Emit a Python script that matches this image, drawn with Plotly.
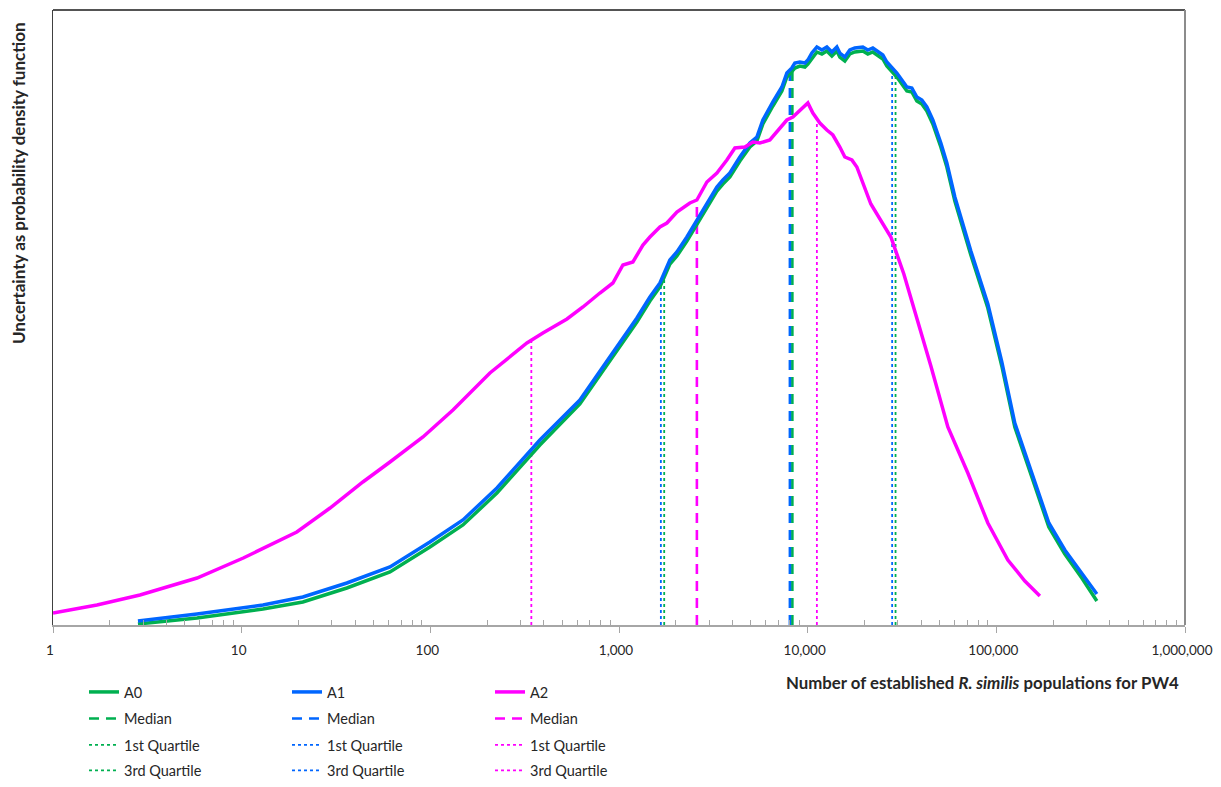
import numpy as np
import plotly.graph_objects as go

# ---------------- data ----------------
# Number of established populations (x) shared by A0 and A1
n_a01 = [2.82, 5.80, 12.97, 21.1, 36.1, 61.1, 99.5, 148.9, 225.4, 298.4,
         380.8, 620.5, 928, 1244, 1458, 1648, 1861, 2027, 2290, 2587,
         2923, 3302, 3553, 3870, 4372, 4939, 5381, 5789, 6540, 7301,
         7758, 8246, 8553, 9094, 9665, 10025, 10527, 11190, 11893, 12641,
         13436, 14280, 14811, 15742, 16731, 17785, 19611, 20843, 22150, 23550,
         25030, 26280, 27940, 29700, 31570, 33550, 35660, 37900, 40290, 42820,
         46070, 50800, 54670, 60280, 73270, 90160, 106900, 125300, 154200, 189800,
         230700, 283900, 341000]

# relative probability density (arbitrary units)
pdf_a1 = [4, 11, 20, 28, 42, 58, 83, 105, 137, 162,
          185, 225, 272, 307, 328, 342, 365, 373, 388, 405,
          422, 438, 445, 452, 468, 482, 488, 505, 523, 538,
          552, 557, 562, 563, 562, 565, 572, 578, 575, 578,
          573, 578, 572, 568, 575, 577, 578, 575, 577, 573,
          570, 563, 558, 552, 545, 538, 537, 528, 525, 518,
          505, 482, 462, 428, 374, 321, 263, 202, 152, 102,
          75, 52, 31]

pdf_a0 = [1, 7, 16, 23, 37, 53, 78, 100, 132, 157,
          180, 221, 268, 303, 324, 338, 361, 369, 384, 401,
          418, 434, 441, 448, 464, 478, 484, 501, 519, 534,
          548, 553, 557, 559, 558, 561, 567, 573, 571, 574,
          569, 574, 568, 564, 571, 573, 574, 571, 573, 569,
          566, 559, 554, 548, 541, 534, 533, 524, 521, 514,
          501, 478, 458, 424, 370, 317, 259, 198, 148, 98,
          71, 47, 24]

n_a2 = [1, 1.71, 2.89, 5.80, 10.2, 19.6, 29.4, 43.9, 61.1, 91.4,
        131.8, 206.9, 325, 395, 530, 644, 792, 928, 1049, 1185,
        1339, 1458, 1648, 1794, 2027, 2375, 2587, 2923, 3302, 3730,
        4114, 4648, 5124, 5581, 6305, 6953, 7758, 8347, 9318, 10025,
        10655, 11604, 12641, 13600, 14811, 15742, 17150, 18225, 21620, 27600,
        32340, 39800, 44980, 55340, 70630, 90160, 115100, 141600, 170100]

pdf_a2 = [12, 20, 30, 47, 67, 93, 117, 143, 163, 188,
          215, 252, 282, 292, 306, 318, 332, 342, 360, 363,
          380, 388, 398, 402, 413, 422, 425, 443, 452, 465,
          477, 478, 483, 482, 485, 495, 505, 508, 517, 522,
          512, 502, 495, 490, 478, 468, 465, 458, 421, 388,
          351, 294, 259, 198, 152, 102, 65, 44, 29]

# summary statistics: (1st quartile, median, 3rd quartile)
stats_a0 = [1736, 8296, 29230]
stats_a1 = [1667, 8050, 28040]
stats_a2 = [343, 2587, 11190]

series_names = ["A0", "A1", "A2"]
series_colors = ["#00B050", "#0066FF", "#FF00FF"]

tick_vals = [1, 10, 100, 1000, 10000, 100000, 1000000]
tick_text = ["1", "10", "100", "1,000", "10,000", "100,000", "1,000,000"]

x_title = "Number of established <i>R. similis</i> populations for PW4"
y_title = "Uncertainty as probability density function"

FONT = "Lato, 'Open Sans', sans-serif"

# ---------------- figure ----------------
fig = go.Figure()

curves = [(n_a01, pdf_a0, stats_a0), (n_a01, pdf_a1, stats_a1), (n_a2, pdf_a2, stats_a2)]

# vertical statistic lines (drawn first, under curves)
stat_defs = [(1, "Median", "10px,7px", 2.6, "legend2"),
             (0, "1st Quartile", "dot", 1.8, "legend3"),
             (2, "3rd Quartile", "dot", 1.8, "legend4")]
for i, (xs, ys, st) in enumerate(curves):
    for idx, label, dash, w, lg in stat_defs:
        q = st[idx]
        h = float(np.interp(np.log10(q), np.log10(xs), ys))
        fig.add_trace(go.Scatter(
            x=[q, q], y=[0, h], mode="lines", name=label,
            line=dict(color=series_colors[i], width=w, dash=dash),
            legend=lg, legendrank=i + 1, hoverinfo="skip"))

for i, (xs, ys, st) in enumerate(curves):
    fig.add_trace(go.Scatter(
        x=xs, y=ys, mode="lines", name=series_names[i],
        line=dict(color=series_colors[i], width=3.5),
        legend="legend", legendrank=i + 1))

# ---------------- layout ----------------
# The page places the figure 8px in from the top-left corner, so the
# figure is laid out in screen pixels minus that offset.
OFF = 8
W, H = 1221 - 2 * OFF, 787 - 2 * OFF
# plot area on screen: x 53..1185, y 10..625
ml, mt = 53 - OFF, 10 - OFF
mr = W - (1185 - OFF)
mb = H - (625 - OFF)
plot_h = H - mt - mb
plot_w = W - ml - mr

def py(sy):  # screen y -> paper y
    return ((625 - OFF) - (sy - OFF)) / plot_h

def pxx(sx):  # screen x -> paper x
    return ((sx - OFF) - ml) / plot_w

legend_font = dict(family=FONT, size=14.5, color="#262626")
leg_common = dict(orientation="h", entrywidth=158, entrywidthmode="pixels",
                  xref="container", yref="container",
                  xanchor="left", yanchor="middle", x=(84 - OFF) / W,
                  bgcolor="rgba(0,0,0,0)", font=legend_font, traceorder="normal",
                  itemclick=False, itemdoubleclick=False)
row_y = [692, 718.5, 745, 770.5]

minor_vals = [m * 10 ** d for d in range(6) for m in range(2, 10)]

fig.update_layout(
    width=W, height=H,
    margin=dict(l=ml, r=mr, t=mt, b=mb, autoexpand=False),
    paper_bgcolor="white", plot_bgcolor="white",
    font=dict(family=FONT, color="#262626"),
    showlegend=True,
    legend=dict(leg_common, y=1 - (row_y[0] - OFF) / H),
    legend2=dict(leg_common, y=1 - (row_y[1] - OFF) / H),
    legend3=dict(leg_common, y=1 - (row_y[2] - OFF) / H),
    legend4=dict(leg_common, y=1 - (row_y[3] - OFF) / H),
    xaxis=dict(type="log", range=[0, 6], showgrid=False, zeroline=False,
               automargin=False, ticklabeloverflow="allow",
               showline=True, linecolor="#A6A6A6", linewidth=1.5,
               ticks="outside", ticklen=6, tickcolor="#A6A6A6", tickwidth=1,
               tickvals=tick_vals, ticktext=tick_text,
               ticklabelstandoff=6, ticklabelshift=-3,
               tickfont=dict(family=FONT, size=13.5, color="#262626"),
               minor=dict(ticks="inside", ticklen=5, tickcolor="#A6A6A6",
                          tickvals=minor_vals, showgrid=False)),
    yaxis=dict(range=[0, plot_h], showgrid=False, zeroline=False,
               automargin=False,
               showticklabels=False, ticks="", showline=True,
               linecolor="#404040", linewidth=1),
    shapes=[
        dict(type="line", xref="paper", yref="paper", x0=0, x1=1, y0=1, y1=1,
             line=dict(color="#1a1a1a", width=1.5)),
        dict(type="line", xref="paper", yref="paper", x0=1, x1=1, y0=0, y1=1,
             line=dict(color="#8c8c8c", width=2)),
    ],
    annotations=[
        dict(text="<b>" + x_title + "</b>", xref="paper", yref="paper",
             x=pxx(1181), y=py(682), xanchor="right", yanchor="middle",
             showarrow=False, font=dict(family=FONT, size=16.8, color="#262626")),
        dict(text="<b>" + y_title + "</b>", xref="paper", yref="paper",
             x=pxx(19), y=py(183), xanchor="center", yanchor="middle",
             textangle=-90, showarrow=False,
             font=dict(family=FONT, size=17, color="#262626")),
    ],
)

fig.write_html("out.html")
